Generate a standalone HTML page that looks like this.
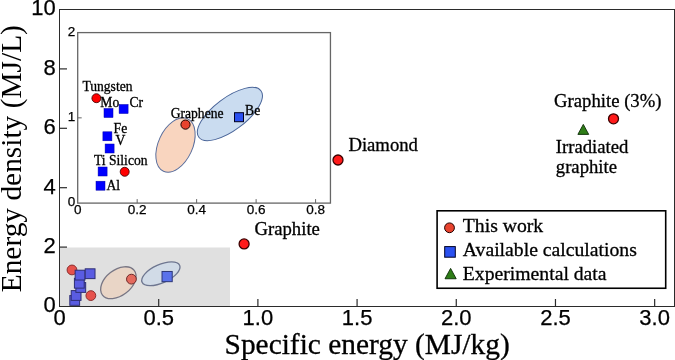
<!DOCTYPE html>
<html><head><meta charset="utf-8"><style>
html,body{margin:0;padding:0;background:#fff;width:675px;height:360px;overflow:hidden}
svg{display:block;will-change:transform}
</style></head><body>
<svg width="675" height="360" viewBox="0 0 675 360">
<rect x="0" y="0" width="675" height="360" fill="#fff"/>
<rect x="60" y="247.5" width="170" height="58.5" fill="#e0e0e0"/>
<ellipse cx="0" cy="0" rx="20.10" ry="12.80" transform="translate(118.35,282.70) rotate(-37.90)" fill="#e9d5c6" stroke="#787684" stroke-width="1.3" opacity="1.0"/>
<ellipse cx="0" cy="0" rx="20.60" ry="9.10" transform="translate(160.85,273.75) rotate(-24.30)" fill="#d1dbe7" stroke="#6e7690" stroke-width="1.3" opacity="1.0"/>
<circle cx="71.98" cy="269.95" r="4.90" fill="#e6524c" stroke="#8c2e2e" stroke-width="1.0" opacity="1.0"/>
<circle cx="90.86" cy="295.60" r="4.90" fill="#e6524c" stroke="#8c2e2e" stroke-width="1.0" opacity="1.0"/>
<rect x="69.81" y="295.54" width="9.80" height="9.80" fill="#5a5ce2" stroke="#2e2e74" stroke-width="1.0" opacity="1.0"/>
<rect x="71.21" y="290.59" width="9.80" height="9.80" fill="#5a5ce2" stroke="#2e2e74" stroke-width="1.0" opacity="1.0"/>
<rect x="75.88" y="282.58" width="9.80" height="9.80" fill="#5a5ce2" stroke="#2e2e74" stroke-width="1.0" opacity="1.0"/>
<rect x="74.42" y="278.33" width="9.80" height="9.80" fill="#5a5ce2" stroke="#2e2e74" stroke-width="1.0" opacity="1.0"/>
<rect x="75.15" y="270.21" width="9.80" height="9.80" fill="#5a5ce2" stroke="#2e2e74" stroke-width="1.0" opacity="1.0"/>
<rect x="85.22" y="268.82" width="9.80" height="9.80" fill="#5a5ce2" stroke="#2e2e74" stroke-width="1.0" opacity="1.0"/>
<circle cx="131.42" cy="279.15" r="4.90" fill="#e46a5e" stroke="#6e2a2a" stroke-width="1.0" opacity="1.0"/>
<rect x="162.02" y="271.47" width="10.20" height="10.20" fill="#5a72ea" stroke="#2d3778" stroke-width="1.0" opacity="1.0"/>
<circle cx="244.10" cy="243.90" r="5.00" fill="#ff1a1a" stroke="#3a0000" stroke-width="1.3" opacity="1.0"/>
<circle cx="338.00" cy="160.00" r="5.00" fill="#ff1a1a" stroke="#3a0000" stroke-width="1.3" opacity="1.0"/>
<circle cx="613.50" cy="118.80" r="5.00" fill="#ff1a1a" stroke="#3a0000" stroke-width="1.3" opacity="1.0"/>
<polygon points="583.30,124.40 588.70,134.39 577.90,134.39" fill="#2e7d17" stroke="#0a2a05" stroke-width="0.9" stroke-linejoin="miter"/>
<text x="348.40" y="151.20" font-size="18.7" style="font-family:'Liberation Serif',serif" text-anchor="start" fill="#000"  stroke="#000" stroke-width="0.3">Diamond</text>
<text x="254.50" y="235.30" font-size="18.7" style="font-family:'Liberation Serif',serif" text-anchor="start" fill="#000"  stroke="#000" stroke-width="0.3">Graphite</text>
<text x="554.10" y="106.80" font-size="18.7" style="font-family:'Liberation Serif',serif" text-anchor="start" fill="#000"  stroke="#000" stroke-width="0.3">Graphite (3%)</text>
<text x="555.80" y="152.90" font-size="18.7" style="font-family:'Liberation Serif',serif" text-anchor="start" fill="#000"  stroke="#000" stroke-width="0.3">Irradiated</text>
<text x="555.80" y="173.20" font-size="18.7" style="font-family:'Liberation Serif',serif" text-anchor="start" fill="#000"  stroke="#000" stroke-width="0.3">graphite</text>
<rect x="59.5" y="9.5" width="615.0" height="297.0" fill="none" stroke="#2b2b2b" stroke-width="1"/>
<line x1="158.69" y1="306.5" x2="158.69" y2="299.0" stroke="#2b2b2b" stroke-width="1.2"/>
<line x1="257.89" y1="306.5" x2="257.89" y2="299.0" stroke="#2b2b2b" stroke-width="1.2"/>
<line x1="357.08" y1="306.5" x2="357.08" y2="299.0" stroke="#2b2b2b" stroke-width="1.2"/>
<line x1="456.27" y1="306.5" x2="456.27" y2="299.0" stroke="#2b2b2b" stroke-width="1.2"/>
<line x1="555.47" y1="306.5" x2="555.47" y2="299.0" stroke="#2b2b2b" stroke-width="1.2"/>
<line x1="654.66" y1="306.5" x2="654.66" y2="299.0" stroke="#2b2b2b" stroke-width="1.2"/>
<line x1="59.5" y1="247.10" x2="67.0" y2="247.10" stroke="#2b2b2b" stroke-width="1.2"/>
<line x1="59.5" y1="187.70" x2="67.0" y2="187.70" stroke="#2b2b2b" stroke-width="1.2"/>
<line x1="59.5" y1="128.30" x2="67.0" y2="128.30" stroke="#2b2b2b" stroke-width="1.2"/>
<line x1="59.5" y1="68.90" x2="67.0" y2="68.90" stroke="#2b2b2b" stroke-width="1.2"/>
<text x="55.80" y="312.40" font-size="22" style="font-family:'Liberation Sans',sans-serif" text-anchor="end" fill="#000"  stroke="#000" stroke-width="0.25">0</text>
<text x="55.80" y="253.00" font-size="22" style="font-family:'Liberation Sans',sans-serif" text-anchor="end" fill="#000"  stroke="#000" stroke-width="0.25">2</text>
<text x="55.80" y="193.60" font-size="22" style="font-family:'Liberation Sans',sans-serif" text-anchor="end" fill="#000"  stroke="#000" stroke-width="0.25">4</text>
<text x="55.80" y="134.20" font-size="22" style="font-family:'Liberation Sans',sans-serif" text-anchor="end" fill="#000"  stroke="#000" stroke-width="0.25">6</text>
<text x="55.80" y="74.80" font-size="22" style="font-family:'Liberation Sans',sans-serif" text-anchor="end" fill="#000"  stroke="#000" stroke-width="0.25">8</text>
<text x="55.80" y="15.40" font-size="22" style="font-family:'Liberation Sans',sans-serif" text-anchor="end" fill="#000"  stroke="#000" stroke-width="0.25">10</text>
<text x="59.50" y="325.30" font-size="22" style="font-family:'Liberation Sans',sans-serif" text-anchor="middle" fill="#000"  stroke="#000" stroke-width="0.25">0</text>
<text x="158.69" y="325.30" font-size="22" style="font-family:'Liberation Sans',sans-serif" text-anchor="middle" fill="#000"  stroke="#000" stroke-width="0.25">0.5</text>
<text x="257.89" y="325.30" font-size="22" style="font-family:'Liberation Sans',sans-serif" text-anchor="middle" fill="#000"  stroke="#000" stroke-width="0.25">1.0</text>
<text x="357.08" y="325.30" font-size="22" style="font-family:'Liberation Sans',sans-serif" text-anchor="middle" fill="#000"  stroke="#000" stroke-width="0.25">1.5</text>
<text x="456.27" y="325.30" font-size="22" style="font-family:'Liberation Sans',sans-serif" text-anchor="middle" fill="#000"  stroke="#000" stroke-width="0.25">2.0</text>
<text x="555.47" y="325.30" font-size="22" style="font-family:'Liberation Sans',sans-serif" text-anchor="middle" fill="#000"  stroke="#000" stroke-width="0.25">2.5</text>
<text x="654.66" y="325.30" font-size="22" style="font-family:'Liberation Sans',sans-serif" text-anchor="middle" fill="#000"  stroke="#000" stroke-width="0.25">3.0</text>
<text x="367.15" y="354.00" font-size="29.4" style="font-family:'Liberation Serif',serif" text-anchor="middle" fill="#000"  stroke="#000" stroke-width="0.3">Specific energy (MJ/kg)</text>
<text x="0" y="0" font-size="29.4" style="font-family:'Liberation Serif',serif" text-anchor="middle" transform="translate(20.6,158.7) rotate(-90)">Energy density (MJ/L)</text>
<rect x="437.1" y="210.8" width="228.6" height="77.45" fill="#fff" stroke="#000" stroke-width="1.6"/>
<circle cx="449.50" cy="227.80" r="4.90" fill="#e8432e" stroke="#200000" stroke-width="1.0" opacity="1.0"/>
<rect x="444.70" y="246.60" width="10.60" height="10.60" fill="#2a50f0" stroke="#000022" stroke-width="1.0" opacity="1.0"/>
<polygon points="450.60,268.40 456.20,278.76 445.00,278.76" fill="#2e7d17" stroke="#0a2a05" stroke-width="0.9" stroke-linejoin="miter"/>
<text x="462.80" y="232.00" font-size="19.7" style="font-family:'Liberation Serif',serif" text-anchor="start" fill="#000"  stroke="#000" stroke-width="0.3">This work</text>
<text x="462.80" y="256.40" font-size="19.7" style="font-family:'Liberation Serif',serif" text-anchor="start" fill="#000"  stroke="#000" stroke-width="0.3">Available calculations</text>
<text x="462.80" y="279.90" font-size="19.7" style="font-family:'Liberation Serif',serif" text-anchor="start" fill="#000"  stroke="#000" stroke-width="0.3">Experimental data</text>
<rect x="77.7" y="32.6" width="252.75" height="170.50" fill="#fff"/>
<ellipse cx="0" cy="0" rx="28.90" ry="17.10" transform="translate(175.50,145.00) rotate(-65.40)" fill="#f9d5bf" stroke="#5a6e9c" stroke-width="1.0" opacity="1.0"/>
<ellipse cx="0" cy="0" rx="38.80" ry="16.20" transform="translate(229.90,114.00) rotate(-36.90)" fill="#cadcf0" stroke="#4a6599" stroke-width="1.0" opacity="1.0"/>
<rect x="104.00" y="108.50" width="9.00" height="9.00" fill="#0000ff" stroke="#0000aa" stroke-width="0.5" opacity="1.0"/>
<rect x="119.10" y="104.50" width="9.00" height="9.00" fill="#0000ff" stroke="#0000aa" stroke-width="0.5" opacity="1.0"/>
<rect x="102.90" y="131.80" width="9.00" height="9.00" fill="#0000ff" stroke="#0000aa" stroke-width="0.5" opacity="1.0"/>
<rect x="105.10" y="144.00" width="9.00" height="9.00" fill="#0000ff" stroke="#0000aa" stroke-width="0.5" opacity="1.0"/>
<rect x="98.10" y="167.00" width="9.00" height="9.00" fill="#0000ff" stroke="#0000aa" stroke-width="0.5" opacity="1.0"/>
<rect x="96.00" y="181.20" width="9.00" height="9.00" fill="#0000ff" stroke="#0000aa" stroke-width="0.5" opacity="1.0"/>
<circle cx="96.40" cy="98.20" r="4.50" fill="#ff0000" stroke="#330000" stroke-width="0.8" opacity="1.0"/>
<circle cx="124.70" cy="171.80" r="4.50" fill="#ff0000" stroke="#330000" stroke-width="0.8" opacity="1.0"/>
<circle cx="185.50" cy="124.60" r="4.60" fill="#e8432e" stroke="#1a0000" stroke-width="1.0" opacity="1.0"/>
<rect x="234.50" y="112.70" width="9.00" height="9.00" fill="#2a50f0" stroke="#000022" stroke-width="1.0" opacity="1.0"/>
<text x="82.40" y="91.30" font-size="13.6" style="font-family:'Liberation Serif',serif" text-anchor="start" fill="#000"  stroke="#000" stroke-width="0.3">Tungsten</text>
<text x="100.30" y="107.30" font-size="13.6" style="font-family:'Liberation Serif',serif" text-anchor="start" fill="#000"  stroke="#000" stroke-width="0.3">Mo</text>
<text x="129.50" y="107.00" font-size="13.6" style="font-family:'Liberation Serif',serif" text-anchor="start" fill="#000"  stroke="#000" stroke-width="0.3">Cr</text>
<text x="113.60" y="132.80" font-size="13.6" style="font-family:'Liberation Serif',serif" text-anchor="start" fill="#000"  stroke="#000" stroke-width="0.3">Fe</text>
<text x="115.50" y="144.70" font-size="13.6" style="font-family:'Liberation Serif',serif" text-anchor="start" fill="#000"  stroke="#000" stroke-width="0.3">V</text>
<text x="94.00" y="164.80" font-size="13.6" style="font-family:'Liberation Serif',serif" text-anchor="start" fill="#000"  stroke="#000" stroke-width="0.3">Ti Silicon</text>
<text x="106.50" y="189.50" font-size="13.6" style="font-family:'Liberation Serif',serif" text-anchor="start" fill="#000"  stroke="#000" stroke-width="0.3">Al</text>
<text x="170.70" y="117.80" font-size="13.6" style="font-family:'Liberation Serif',serif" text-anchor="start" fill="#000"  stroke="#000" stroke-width="0.3">Graphene</text>
<text x="245.10" y="114.60" font-size="13.6" style="font-family:'Liberation Serif',serif" text-anchor="start" fill="#000"  stroke="#000" stroke-width="0.3">Be</text>
<rect x="77.7" y="32.6" width="252.75" height="170.50" fill="none" stroke="#666666" stroke-width="1.3"/>
<line x1="137.17" y1="203.1" x2="137.17" y2="199.1" stroke="#666666" stroke-width="1"/>
<line x1="196.64" y1="203.1" x2="196.64" y2="199.1" stroke="#666666" stroke-width="1"/>
<line x1="256.11" y1="203.1" x2="256.11" y2="199.1" stroke="#666666" stroke-width="1"/>
<line x1="315.58" y1="203.1" x2="315.58" y2="199.1" stroke="#666666" stroke-width="1"/>
<line x1="77.7" y1="117.85" x2="81.7" y2="117.85" stroke="#666666" stroke-width="1"/>
<text x="75.30" y="206.00" font-size="13.5" style="font-family:'Liberation Sans',sans-serif" text-anchor="end" fill="#000"  stroke="#000" stroke-width="0.25">0</text>
<text x="75.30" y="120.75" font-size="13.5" style="font-family:'Liberation Sans',sans-serif" text-anchor="end" fill="#000"  stroke="#000" stroke-width="0.25">1</text>
<text x="75.30" y="35.50" font-size="13.5" style="font-family:'Liberation Sans',sans-serif" text-anchor="end" fill="#000"  stroke="#000" stroke-width="0.25">2</text>
<text x="77.70" y="214.30" font-size="13.5" style="font-family:'Liberation Sans',sans-serif" text-anchor="middle" fill="#000"  stroke="#000" stroke-width="0.25">0</text>
<text x="137.17" y="214.30" font-size="13.5" style="font-family:'Liberation Sans',sans-serif" text-anchor="middle" fill="#000"  stroke="#000" stroke-width="0.25">0.2</text>
<text x="196.64" y="214.30" font-size="13.5" style="font-family:'Liberation Sans',sans-serif" text-anchor="middle" fill="#000"  stroke="#000" stroke-width="0.25">0.4</text>
<text x="256.11" y="214.30" font-size="13.5" style="font-family:'Liberation Sans',sans-serif" text-anchor="middle" fill="#000"  stroke="#000" stroke-width="0.25">0.6</text>
<text x="315.58" y="214.30" font-size="13.5" style="font-family:'Liberation Sans',sans-serif" text-anchor="middle" fill="#000"  stroke="#000" stroke-width="0.25">0.8</text>
</svg>
</body></html>
